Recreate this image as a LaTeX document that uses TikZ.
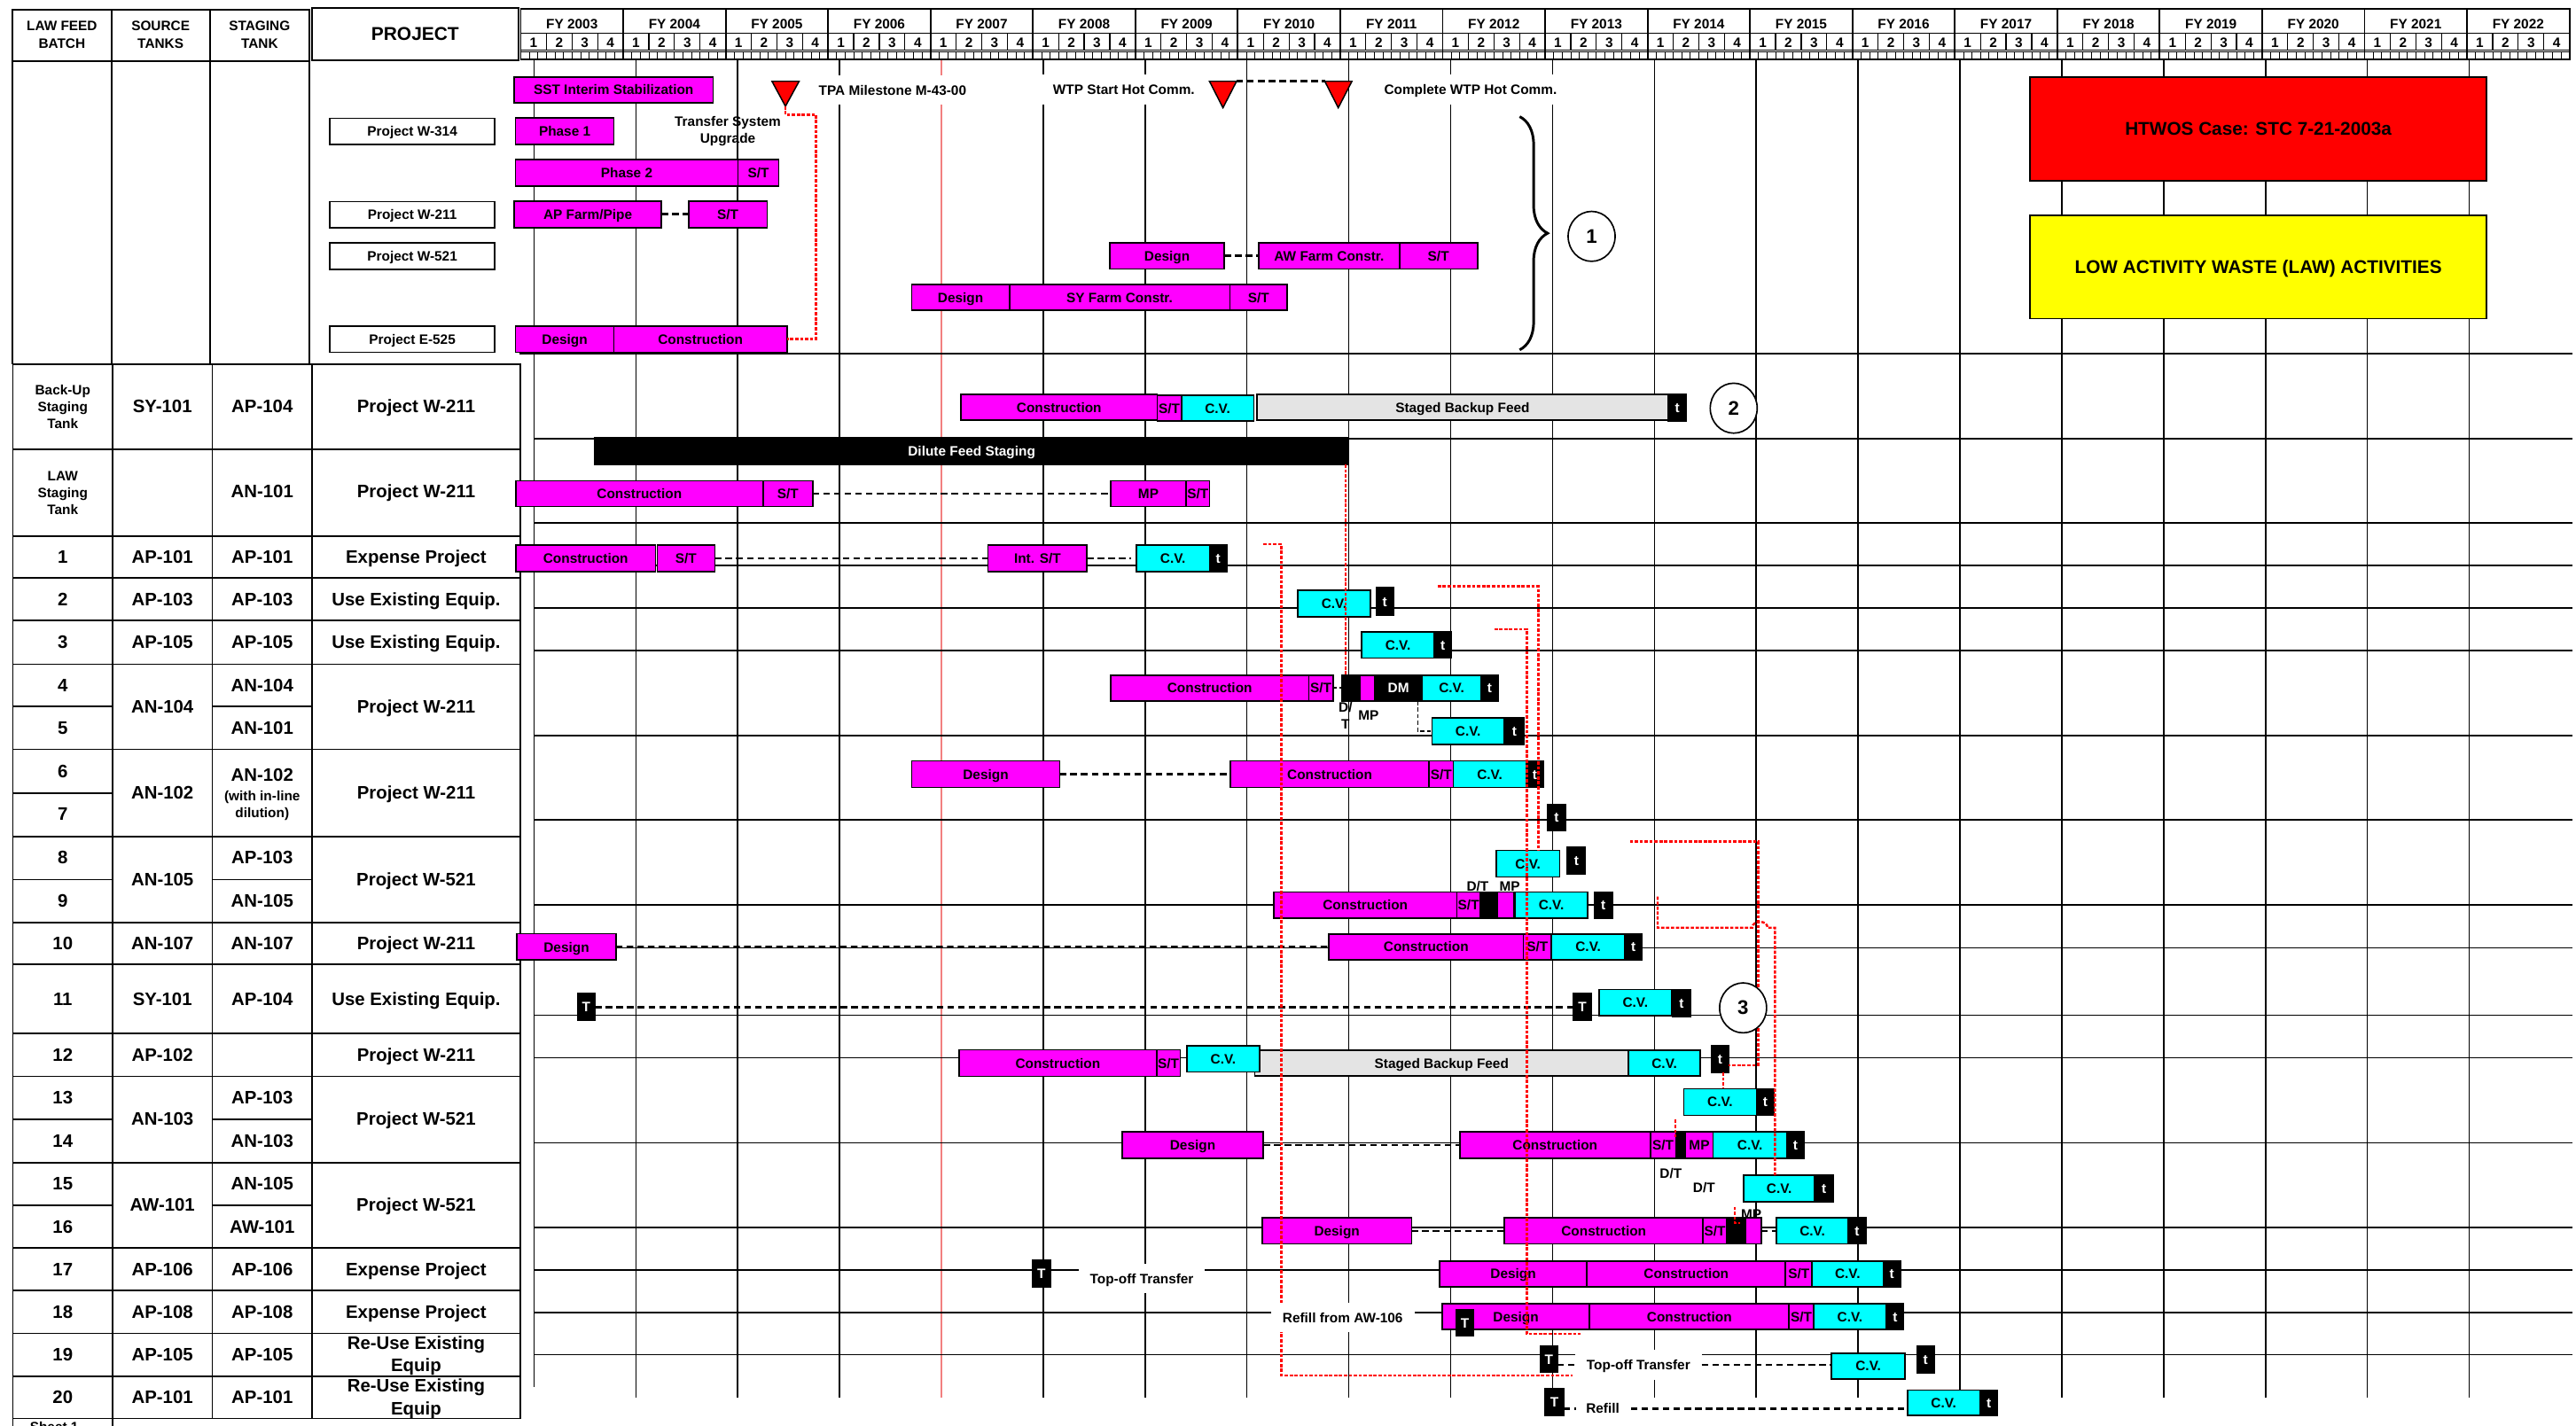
\documentclass[tikz,border=0pt]{standalone}
\usepackage{fontspec}
\setmainfont{Liberation Sans}
\usetikzlibrary{shapes.geometric,decorations.pathreplacing}
\definecolor{mgc}{RGB}{255,0,255}
\definecolor{cyc}{RGB}{0,255,255}
\definecolor{gyc}{RGB}{228,228,228}
\definecolor{salm}{RGB}{242,128,128}
\definecolor{ylw}{RGB}{255,255,0}
\definecolor{rdc}{RGB}{255,0,0}
\newcommand\fchart{\fontsize{8.3}{10.3}\selectfont\bfseries}
\newcommand\fhead{\fontsize{8.3}{10.8}\selectfont\bfseries}
\newcommand\ftab{\fontsize{11}{14}\selectfont\bfseries}
\newcommand\fproj{\fontsize{11.3}{13}\selectfont\bfseries}
\newcommand\fcirc{\fontsize{12}{14}\selectfont\bfseries}
\newcommand\fbig{\fontsize{11.2}{13}\selectfont\bfseries}
\newcommand\bx[7]{\node[#6,anchor=north west,minimum width={#4pt-#2pt},minimum height={#5pt-#3pt}] (#1) at (#2,#3) {#7};}
\newcommand\trow[6]{%
  \node[ttxt] (#1a) at (38.2,#2) {#3};
  \node[ttxt] (#1b) at (98.85,#2) {#4};
  \node[ttxt] (#1c) at (159.6,#2) {#5};
  \node[ttxt] (#1d) at (253.3,#2) {#6};}
\begin{document}
\begin{tikzpicture}[x=1pt,y=-1pt,
  every node/.style={inner sep=0pt,outer sep=0pt,font=\fchart},
  br/.style={draw=black,line width=0.9pt,text height=6pt,text depth=0pt,align=center},
  mg/.style={br,fill=mgc},
  cy/.style={br,fill=cyc},
  bk/.style={br,fill=black,text=white},
  gy/.style={br,fill=gyc},
  pbox/.style={br,fill=white},
  bigbox/.style={draw=black,line width=1pt,font=\fbig,text height=8pt,text depth=0pt},
  lbl/.style={text height=6pt,text depth=0pt,align=center},
  wlbl/.style={lbl,fill=white,inner xsep=7pt,inner ysep=6pt},
  htxt/.style={font=\fhead,align=center},
  ttxt/.style={font=\ftab,text height=8pt,text depth=0pt},
  mtxt/.style={font=\ftab,align=center},
  stxt/.style={font=\fchart,align=center},
  gridl/.style={line width=0.8pt},
  hdr/.style={line width=1pt},
  tab/.style={line width=1pt},
  bdash/.style={line width=1.4pt,dash pattern=on 4pt off 2.5pt},
  sdash/.style={line width=1pt,dash pattern=on 2.5pt off 1.5pt},
  rdash/.style={draw=rdc,line width=1.3pt,dash pattern=on 2pt off 1pt},
  circ/.style={draw,line width=0.9pt,ellipse,minimum width=28.6pt,minimum height=30.4pt,font=\fcirc,fill=white},
  tri/.style={fill=rdc,draw=black,line width=0.8pt},
]
\useasboundingbox (0,0) rectangle (1568,868);
\fill[white] (0,0) rectangle (1568,868);

% ---------- left header ----------
\draw[hdr] (7.6,5.8) rectangle (67.8,37.2);
\draw[hdr] (67.8,5.8) rectangle (127.7,37.2);
\draw[hdr] (127.7,5.8) rectangle (188.3,37.2);
\draw[hdr] (189.7,5) rectangle (315.7,36.9);
\node[htxt] (hlaw) at (37.7,21.2) {LAW FEED\\BATCH};
\node[htxt] (hsrc) at (97.75,21.2) {SOURCE\\TANKS};
\node[htxt] (hstg) at (158,21.2) {STAGING\\TANK};
\node[font=\fproj,text height=8pt,text depth=0pt] (hprj) at (252.7,20.7) {PROJECT};

% ---------- FY header ----------
\foreach \k in {0,...,19}{
  \pgfmathsetmacro\xa{317+62.35*\k}
  \pgfmathsetmacro\xb{\xa+62.35}
  \pgfmathtruncatemacro\yr{2003+\k}
  \draw[hdr] (\xa,5.2) rectangle (\xb,36.3);
  \draw[line width=0.7pt] (\xa,20.1) -- (\xb,20.1) (\xa,30.4) -- (\xb,30.4) (\xa,31.6) -- (\xb,31.6);
  \node[lbl] (fy\k) at ({(\xa+\xb)/2},14.3) {FY \yr};
  \foreach \q in {1,2,3,4}{
    \pgfmathsetmacro\qa{\xa+(\q-1)*62.35/4}
    \node[lbl] (q\k-\q) at ({\qa+62.35/8},25.6) {\q};
    \ifnum\q>1 \draw[line width=0.7pt] (\qa,20.1) -- (\qa,30.4);\fi
  }
  \foreach \m in {1,...,11}{\draw[line width=0.4pt] ({\xa+\m*62.35/12},31.6) -- ({\xa+\m*62.35/12},36.3);}
}

% ---------- left table: top section ----------
\draw[tab] (7.6,37.2) -- (7.6,221.8) (67.8,37.2) -- (67.8,221.8) (127.7,37.2) -- (127.7,221.8) (188.3,37.2) -- (188.3,221.8);
\draw[tab] (7.6,221.8) -- (188.3,221.8);

% ---------- left table: body ----------
\draw[tab] (7.8,221.8) rectangle (316.5,863.6);
\draw[tab] (68.5,221.8) -- (68.5,863.6) (129.2,221.8) -- (129.2,863.6) (190,221.8) -- (190,863.6);
\foreach \y in {273.6,326.6,351.9,377.9,404.4,456.2,509.2,561.5,587,629,655.3,707.7,759.6,785.5,811.8,837.9}{
  \draw[tab] (7.8,\y) -- (316.5,\y);}
\foreach \y in {430.2,535.5,681.4,733.6}{
  \draw[tab] (7.8,\y) -- (68.5,\y) (129.2,\y) -- (190,\y);}
\draw[tab] (7.8,482.7) -- (68.5,482.7);
\begin{scope}
\clip (0,0) rectangle (1568,868);
\draw[tab] (7.8,863.6) -- (7.8,875) (68.5,863.6) -- (68.5,875);
\node[lbl] (sheet) at (33,868.6) {Sheet 1};
\end{scope}

\node[stxt] (bua) at (38.2,247.8) {Back-Up\\Staging\\Tank};
\node[ttxt] (bub) at (98.85,247) {SY-101};
\node[ttxt] (buc) at (159.6,247) {AP-104};
\node[ttxt] (bud) at (253.3,247) {Project W-211};
\node[stxt] (lsa) at (38.2,300.2) {LAW\\Staging\\Tank};
\node[ttxt] (lsc) at (159.6,299.2) {AN-101};
\node[ttxt] (lsd) at (253.3,299.2) {Project W-211};
\trow{r1}{339}{1}{AP-101}{AP-101}{Expense Project}
\trow{r2}{364.7}{2}{AP-103}{AP-103}{Use Existing Equip.}
\trow{r3}{390.9}{3}{AP-105}{AP-105}{Use Existing Equip.}
\node[ttxt] (r4a) at (38.2,417.1) {4};
\node[ttxt] (r5a) at (38.2,443.1) {5};
\node[ttxt] (r45b) at (98.85,430) {AN-104};
\node[ttxt] (r4c) at (159.6,417.1) {AN-104};
\node[ttxt] (r5c) at (159.6,443.1) {AN-101};
\node[ttxt] (r45d) at (253.3,430) {Project W-211};
\node[ttxt] (r6a) at (38.2,469.3) {6};
\node[ttxt] (r7a) at (38.2,495.6) {7};
\node[ttxt] (r67b) at (98.85,482.6) {AN-102};
\node[ttxt] (r67c1) at (159.6,471.6) {AN-102};
\node[lbl] (r67c2) at (159.6,484.4) {(with in-line};
\node[lbl] (r67c3) at (159.6,494.5) {dilution)};
\node[ttxt] (r67d) at (253.3,482.6) {Project W-211};
\node[ttxt] (r8a) at (38.2,521.9) {8};
\node[ttxt] (r9a) at (38.2,548) {9};
\node[ttxt] (r89b) at (98.85,535.3) {AN-105};
\node[ttxt] (r8c) at (159.6,521.9) {AP-103};
\node[ttxt] (r9c) at (159.6,548) {AN-105};
\node[ttxt] (r89d) at (253.3,535.3) {Project W-521};
\trow{r10}{574.1}{10}{AN-107}{AN-107}{Project W-211}
\trow{r11}{607.9}{11}{SY-101}{AP-104}{Use Existing Equip.}
\trow{r12}{642}{12}{AP-102}{}{Project W-211}
\node[ttxt] (r13a) at (38.2,668) {13};
\node[ttxt] (r14a) at (38.2,694.4) {14};
\node[ttxt] (r134b) at (98.85,681.2) {AN-103};
\node[ttxt] (r13c) at (159.6,668) {AP-103};
\node[ttxt] (r14c) at (159.6,694.4) {AN-103};
\node[ttxt] (r134d) at (253.3,681.2) {Project W-521};
\node[ttxt] (r15a) at (38.2,720.4) {15};
\node[ttxt] (r16a) at (38.2,746.6) {16};
\node[ttxt] (r156b) at (98.85,733.4) {AW-101};
\node[ttxt] (r15c) at (159.6,720.4) {AN-105};
\node[ttxt] (r16c) at (159.6,746.6) {AW-101};
\node[ttxt] (r156d) at (253.3,733.4) {Project W-521};
\trow{r17}{772.5}{17}{AP-106}{AP-106}{Expense Project}
\trow{r18}{798.5}{18}{AP-108}{AP-108}{Expense Project}
\node[ttxt] (r19a) at (38.2,824.6) {19};
\node[ttxt] (r19b) at (98.85,824.6) {AP-105};
\node[ttxt] (r19c) at (159.6,824.6) {AP-105};
\node[mtxt] (r19d) at (253.3,825.4) {Re-Use Existing\\Equip};
\node[ttxt] (r20a) at (38.2,850.5) {20};
\node[ttxt] (r20b) at (98.85,850.5) {AP-101};
\node[ttxt] (r20c) at (159.6,850.5) {AP-101};
\node[mtxt] (r20d) at (253.3,851.4) {Re-Use Existing\\Equip};

% ---------- chart grid ----------
\draw[gridl] (325,36.5) -- (325,844.6);
\foreach \k in {1,2,3,5,6,7,8,9,10,11,12,13,14,15,16,17,18,19}{
  \draw[gridl] ({325+62*\k},36.5) -- ({325+62*\k},850.8);}
\draw[draw=salm,line width=1pt] (573,36.5) -- (573,850.8);
\draw[line width=1.2pt] (316,215.3) -- (1566,215.3);
\foreach \y in {267.1,318.3,344.2,370.2,396.1,447.8,499.2,550.9,577.1,618.1,644,695.7,747.2,773.1,799,824.8}{
  \draw[gridl] (325,\y) -- (1566,\y);}

% ---------- top section ----------
\bx{pw314}{200.7}{72}{301.2}{88.1}{pbox}{Project W-314}
\bx{pw211}{200.7}{122.7}{301.2}{138.5}{pbox}{Project W-211}
\bx{pw521}{200.7}{148}{301.2}{164}{pbox}{Project W-521}
\bx{pe525}{200.7}{198.4}{301.2}{214.4}{pbox}{Project E-525}

\bx{sst}{313}{46.8}{434}{62.6}{mg}{SST Interim Stabilization}
\bx{ph1}{313.8}{71.9}{373.7}{88.1}{mg}{Phase 1}
\bx{ph2}{313.8}{97.1}{449.2}{113.3}{mg}{Phase 2}
\bx{ph2st}{449.2}{97.1}{474}{113.3}{mg}{S/T}
\bx{apf}{313}{122.3}{402.6}{138.5}{mg}{AP Farm/Pipe}
\bx{apst}{419.1}{122.3}{467}{138.5}{mg}{S/T}
\draw[bdash] (apf.east) -- (apst.west);
\bx{awd}{675.5}{147.8}{745.3}{163.7}{mg}{Design}
\bx{awc}{766.3}{147.8}{851.8}{163.7}{mg}{AW Farm Constr.}
\bx{awst}{851.8}{147.8}{899.3}{163.7}{mg}{S/T}
\draw[bdash] (awd.east) -- (awc.west);
\bx{syd}{554.9}{173.2}{614.4}{188.9}{mg}{Design}
\bx{syc}{614.4}{173.2}{748.6}{188.9}{mg}{SY Farm Constr.}
\bx{syst}{748.6}{173.2}{783.6}{188.9}{mg}{S/T}
\bx{ed}{313.8}{198.4}{373.7}{214.4}{mg}{Design}
\bx{ec}{373.7}{198.4}{479}{214.4}{mg}{Construction}

\filldraw[tri] (469.9,49.5) -- (486.4,49.5) -- (478.1,64.7) -- cycle;
\coordinate (m1tip) at (478.1,64.7);
\filldraw[tri] (736.2,49.5) -- (752.7,49.5) -- (744.4,65.6) -- cycle;
\coordinate (m2r) at (752.7,49.3);
\filldraw[tri] (806.4,49.5) -- (822.9,49.5) -- (814.6,65.6) -- cycle;
\coordinate (m3l) at (806.4,49.3);
\draw[bdash] (m2r) -- (m3l);
\node[stxt] (tsu) at (443,79.8) {Transfer System\\Upgrade};

\bx{htwos}{1235.6}{47}{1513.6}{110}{bigbox,fill=rdc}{HTWOS Case: STC 7-21-2003a}
\bx{lawb}{1235.6}{131}{1513.6}{194}{bigbox,fill=ylw}{LOW ACTIVITY WASTE (LAW) ACTIVITIES}

% ---------- back-up / LAW staging rows ----------
\bx{bksb}{765.2}{240.1}{1015.3}{255.7}{gy}{Staged Backup Feed}
\bx{bkc}{584.9}{240.1}{704.4}{255.7}{mg}{Construction}
\bx{bkst}{704.4}{240.6}{719.1}{256.3}{mg}{S/T}
\bx{bkcv}{719.1}{240.6}{763.2}{256.3}{cy}{C.V.}
\bx{bkt}{1015.3}{239.8}{1026.6}{256.3}{bk}{t}
\bx{dil}{362.2}{266.2}{820.7}{282.7}{bk}{Dilute Feed Staging}
\bx{lc}{314}{292.8}{464.4}{308.4}{mg}{Construction}
\bx{lst}{464.4}{292.8}{494.7}{308.4}{mg}{S/T}
\bx{lmp}{676.1}{292.8}{721.9}{308.4}{mg}{MP}
\bx{lst2}{721.9}{292.8}{736.3}{308.4}{mg}{S/T}
\draw[bdash] (lst.east) -- (lmp.west);

% ---------- rows 1-10 ----------
\bx{ac}{314}{331.8}{399}{348}{mg}{Construction}
\bx{ast}{400}{331.8}{435.1}{348}{mg}{S/T}
\bx{aint}{601.4}{331.8}{661.6}{348}{mg}{Int. S/T}
\bx{acv}{691.6}{331.8}{736.3}{348}{cy}{C.V.}
\bx{at}{736.3}{331.8}{746.6}{348}{bk}{t}
\draw[bdash] (ast.east) -- (aint.west);
\draw[bdash] (aint.east) -- ([xshift=-3pt]acv.west);

\bx{bcv}{789.9}{359.4}{834.2}{375.4}{cy}{C.V.}
\bx{bt}{837.8}{357.9}{848.1}{374.7}{bk}{t}
\bx{ccv}{828.9}{384.6}{873}{400.7}{cy}{C.V.}
\bx{ct}{873}{384.6}{883.6}{400.7}{bk}{t}

\bx{dc}{676.1}{411}{796.6}{426.8}{mg}{Construction}
\bx{dst}{796.6}{411}{811.4}{426.8}{mg}{S/T}
\bx{ddt}{816.8}{411}{827.7}{426.8}{bk}{}
\bx{dmp}{827.7}{411}{836.8}{426.8}{mg}{}
\bx{ddm}{836.8}{411}{865.7}{426.8}{bk}{DM}
\bx{dcv}{865.7}{411}{901.4}{426.8}{cy}{C.V.}
\bx{dt}{901.4}{411}{912}{426.8}{bk}{t}
\draw[sdash] (dst.east) -- (ddt.west);
\bx{ecv}{871.7}{437.1}{915.6}{453.3}{cy}{C.V.}
\bx{et}{916.3}{437.1}{927.4}{453.3}{bk}{t}
\draw[sdash] (863,426.8) |- (ecv.west);

\bx{fd}{555}{463.2}{645}{479.4}{mg}{Design}
\bx{fc}{749}{463.2}{869.8}{479.4}{mg}{Construction}
\bx{fst}{869.8}{463.2}{884.7}{479.4}{mg}{S/T}
\bx{fcv}{884.7}{463.2}{928.8}{479.4}{cy}{C.V.}
\bx{ft}{928.8}{463.2}{939.7}{479.4}{bk}{t}
\draw[bdash] (fd.east) -- (fc.west);
\bx{gt}{942.1}{489.6}{952.9}{505.8}{bk}{t}
\bx{hcv}{910.8}{517.7}{949.3}{533.9}{cy}{C.V.}
\bx{ht}{954.1}{515.9}{965}{532.1}{bk}{t}
\bx{ic}{775.4}{543}{886.7}{559}{mg}{Construction}
\bx{ist}{886.7}{543}{901.1}{559}{mg}{S/T}
\bx{idt}{901.1}{543}{911.3}{559}{bk}{}
\bx{imp}{911.3}{543}{921.6}{559}{mg}{}
\bx{icv}{922.1}{543}{966.4}{559}{cy}{C.V.}
\bx{it}{970.5}{543}{981.3}{559}{bk}{t}
\bx{jd}{314.7}{568.5}{374.9}{584.5}{mg}{Design}
\bx{jc}{808.9}{568.7}{927.2}{584.2}{mg}{Construction}
\bx{jst}{927.2}{568.7}{944.3}{584.2}{mg}{S/T}
\bx{jcv}{944.3}{568.7}{989.1}{584.2}{cy}{C.V.}
\bx{jt}{989.1}{568.7}{999.4}{584.2}{bk}{t}
\draw[bdash] (jd.east) -- (jc.west);

% ---------- rows 11-20 ----------
\bx{kt1}{351.5}{605}{362.2}{621.3}{bk}{T}
\bx{kt2}{957.8}{605}{968.5}{621.3}{bk}{T}
\bx{kcv}{973.3}{602.5}{1017.5}{618.4}{cy}{C.V.}
\bx{kt}{1018.1}{602.5}{1029}{618.8}{bk}{t}
\draw[bdash] (kt1.east) -- (kt2.west);

\bx{lsb}{763.8}{639.4}{991.2}{655.2}{gy}{Staged Backup Feed}
\bx{lc12}{583.8}{639.2}{704}{655.3}{mg}{Construction}
\bx{lst12}{704}{639.2}{718.4}{655.3}{mg}{S/T}
\bx{lcv12}{722.5}{636.7}{766.6}{652.6}{cy}{C.V.}
\bx{lcv12b}{991.2}{639.4}{1035}{655.2}{cy}{C.V.}
\bx{lt12}{1041.8}{636.7}{1052.1}{652.9}{bk}{t}
\bx{mcv}{1024.9}{662.8}{1069.1}{679}{cy}{C.V.}
\bx{mt}{1069.1}{662.8}{1080}{679}{bk}{t}

\bx{nd}{683}{689.2}{769}{705.1}{mg}{Design}
\bx{nc}{888.5}{689.2}{1004.6}{705.1}{mg}{Construction}
\bx{nst}{1004.6}{689.2}{1020}{705.1}{mg}{S/T}
\bx{ndt}{1020}{689.2}{1025.9}{705.1}{bk}{}
\bx{nmp}{1025.9}{689.2}{1042.8}{705.1}{mg}{MP}
\bx{ncv}{1042.8}{689.2}{1087.6}{705.1}{cy}{C.V.}
\bx{nt}{1087.6}{689.2}{1098}{705.1}{bk}{t}
\draw[bdash] (nd.east) -- (nc.west);
\bx{ocv}{1061.5}{715.5}{1104.5}{731.5}{cy}{C.V.}
\bx{ot}{1104.5}{715.5}{1116}{731.5}{bk}{t}

\bx{pd}{768.3}{741.5}{859.2}{757.3}{mg}{Design}
\bx{pc}{915.8}{741.5}{1036.6}{757.3}{mg}{Construction}
\bx{pst}{1036.6}{741.5}{1051}{757.3}{mg}{S/T}
\bx{pdt}{1051}{741.5}{1062.5}{757.3}{bk}{}
\bx{pmp}{1062.5}{741.5}{1072}{757.3}{mg}{}
\bx{pcv}{1081.4}{741.5}{1125}{757.3}{cy}{C.V.}
\bx{pt}{1125}{741.5}{1135.8}{757.3}{bk}{t}
\draw[bdash] (pd.east) -- (pc.west);
\draw[bdash] (pmp.east) -- (pcv.west);

\bx{qT}{628.6}{767.2}{639.3}{783.6}{bk}{T}
\bx{qd}{876.2}{767.7}{966}{783.3}{mg}{Design}
\bx{qc}{966}{767.7}{1086.8}{783.3}{mg}{Construction}
\bx{qst}{1086.8}{767.7}{1103}{783.3}{mg}{S/T}
\bx{qcv}{1103}{767.7}{1146.3}{783.3}{cy}{C.V.}
\bx{qt}{1146.3}{767.7}{1156.7}{783.3}{bk}{t}

\bx{rd}{877.8}{793.6}{967.6}{809.4}{mg}{Design}
\bx{rc}{967.6}{793.6}{1089}{809.4}{mg}{Construction}
\bx{rst}{1089}{793.6}{1103.9}{809.4}{mg}{S/T}
\bx{rcv}{1103.9}{793.6}{1148.2}{809.4}{cy}{C.V.}
\bx{rt}{1148.2}{793.6}{1158.8}{809.4}{bk}{t}
\bx{rT}{886.4}{797.2}{896.9}{813.4}{bk}{T}

\bx{sT}{937.5}{819.3}{948}{835.5}{bk}{T}
\bx{scv}{1114.7}{823.8}{1159.7}{839.6}{cy}{C.V.}
\bx{st}{1166.8}{819.3}{1177.3}{836}{bk}{t}
\bx{uT}{940.6}{845.4}{951.7}{862}{bk}{T}
\bx{ucv}{1161.1}{846.3}{1205.1}{861.6}{cy}{C.V.}
\bx{ut}{1205.1}{846.3}{1216}{861.6}{bk}{t}

% ---------- red dependency lines ----------
\draw[rdash] (m1tip) -- (478.1,69.8) -- (496.7,69.8) |- (ec.east);
\draw[rdash] (819,282.7) -- (819,0 |- ddt.north);
\draw[rdash] (769,331.3) -- (780,331.3) -- (780,837.3) -- (957,837.3);
\draw[rdash] (875.1,357) -- (936.5,357) -- (936.5,0 |- hcv.north);
\draw[rdash] (909.6,383.1) -- (929.3,383.1) -- (929.3,812.1) -- (962.3,812.1);
\draw[rdash] (992,512.3) -- (1070.2,512.3) -- (1070.2,648.4) -- (lt12.east |- 0,648.4);
\draw[rdash] (1049,652.9) -- (1049,0 |- mcv.north);
\draw[rdash] (1009,545.9) -- (1009,564.8) -- (1066.6,564.8) .. controls (1066.6,560) and (1075.9,560) .. (1075.9,564.8) -- (1080.4,564.8) -- (1080.4,0 |- ocv.north);
\draw[rdash] (1019.8,681.7) -- (1019.8,692.5);
\draw[rdash] (1055.8,734.7) -- (1055.8,744.6) -- (1059.4,744.6);

% ---------- brace and circled numbers ----------
\draw[line width=1.6pt,decorate,decoration={brace,amplitude=17pt}] (925,71) -- (925,213);
\node[circ] (c1) at (968.8,143.9) {1};
\node[circ] (c2) at (1055.3,248.5) {2};
\node[circ] (c3) at (1061,613.6) {3};

% ---------- labels ----------
\node[wlbl] (tpa) at (543.3,54.9) {TPA Milestone M-43-00};
\node[wlbl] (wtp) at (684.1,54.4) {WTP Start Hot Comm.};
\node[wlbl] (cwtp) at (895.1,54.4) {Complete WTP Hot Comm.};
\node[stxt] (ldt4) at (819,435.7) {D/\\T};
\node[lbl] (lmp4) at (833,435.6) {MP};
\node[lbl] (ldt9) at (899.4,539.3) {D/T};
\node[lbl] (lmp9) at (919,539.3) {MP};
\node[lbl,fill=white,inner sep=1.5pt] (ldt14a) at (1017,714.1) {D/T};
\node[lbl] (ldt14b) at (1037.2,723.1) {D/T};
\node[lbl] (lmp16) at (1066,739) {MP};
\node[wlbl] (qlab) at (695,778.4) {Top-off Transfer};
\node[wlbl] (rlab) at (817.3,802.2) {Refill from AW-106};
\node[wlbl] (slab) at (997.3,831) {Top-off Transfer};
\node[lbl] (ulab) at (975.6,857.6) {Refill};
\draw[bdash] (sT.east |- slab) -- (slab.west);
\draw[bdash] (slab.east) -- (scv.west |- slab);
\draw[bdash] (uT.east |- ulab) -- ([xshift=-6pt]ulab.west);
\draw[bdash] ([xshift=7pt]ulab.east) -- (ucv.west |- ulab);
\end{tikzpicture}
\end{document}
